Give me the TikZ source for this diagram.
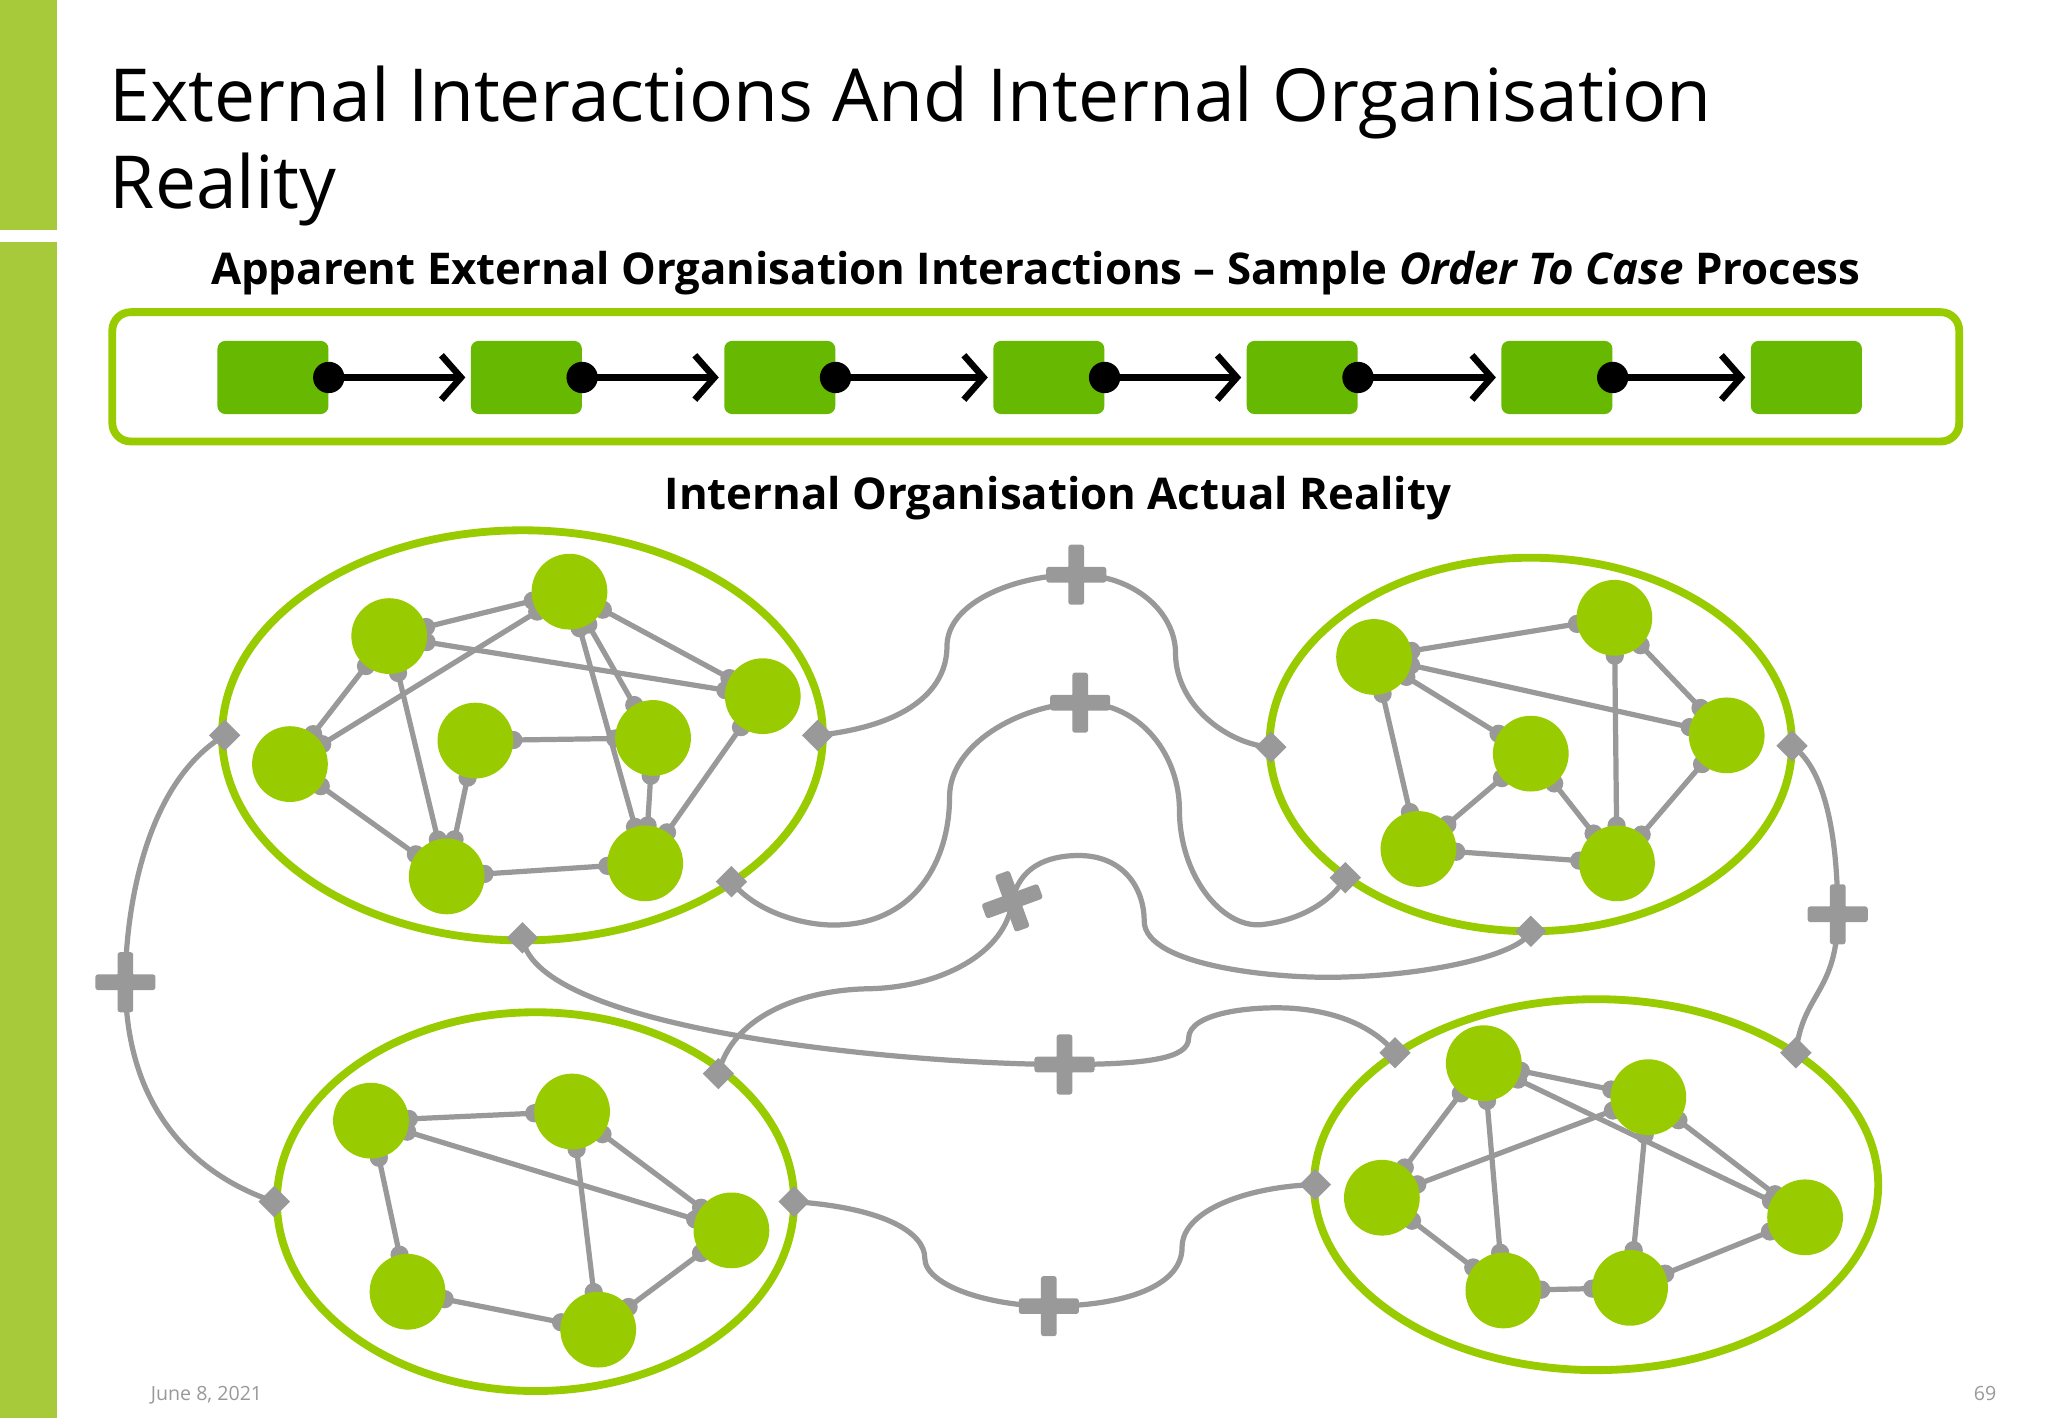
\documentclass[tikz,border=0pt]{standalone}
\usepackage{fontspec}
\setmainfont{Open Sans}
\usetikzlibrary{calc,arrows.meta}
\definecolor{bar}{HTML}{A6CA3A}
\definecolor{lime}{HTML}{99CC00}
\definecolor{boxg}{HTML}{66B800}
\definecolor{gr}{HTML}{999999}
\tikzset{
 pbox/.style={fill=boxg,rounded corners=6pt,minimum width=85pt,minimum height=56pt,inner sep=0pt},
 cnode/.style={circle,fill=lime,minimum size=58pt,inner sep=0pt},
 link/.style={draw=gr,line width=4pt},
 curve/.style={draw=gr,line width=4pt},
 ell/.style={draw=lime,line width=6pt},
 dia/.style={fill=gr,draw=none,rotate=45,minimum size=17pt,inner sep=0pt},
 arr/.style={line width=5pt,-{Straight Barb[length=15pt,width=34pt]}},
}
\newcommand{\plusmark}[3]{\begin{scope}[shift={(#1,#2)},rotate=#3]
 \fill[gr,rounded corners=2pt] (-23,-6) rectangle (23,6);
 \fill[gr,rounded corners=2pt] (-6,-23) rectangle (6,23);
 \fill[gr] (0,-12) -- (12,0) -- (0,12) -- (-12,0) -- cycle;
\end{scope}}
\begin{document}
\begin{tikzpicture}[x=1pt,y=-1pt]
\useasboundingbox (0,0) rectangle (1568,1086);
\fill[white] (0,0) rectangle (1568,1086);
\fill[bar] (0,0) rectangle (44,176);
\fill[bar] (0,185) rectangle (44,1086);
\node[anchor=base west,font=\fontsize{56}{60}\selectfont,inner sep=0pt] (t1) at (84,93) {External Interactions And Internal Organisation};
\node[anchor=base west,font=\fontsize{56}{60}\selectfont,inner sep=0pt] (t2) at (84,160) {Reality};
\node[anchor=base,font=\fontsize{33.5}{40}\selectfont\bfseries,inner sep=0pt] (st) at (793,218) {Apparent External Organisation Interactions -- Sample \textit{Order To Case} Process};
\node[anchor=base,font=\fontsize{33.5}{40}\selectfont\bfseries,inner sep=0pt] (st2) at (810,390) {Internal Organisation Actual Reality};
% top process
\draw[draw=lime,line width=6pt,rounded corners=14pt] (86,239) rectangle (1500,338);
\foreach \i/\x in {1/209,2/403,3/597,4/803,5/997,6/1192,7/1383}{\node[pbox] (p\i) at (\x,289) {};}
\foreach \a/\b in {1/2,2/3,3/4,4/5,5/6,6/7}{
 \fill (p\a.east) circle (12pt);
 \draw[arr] (p\a.east) -- ($(p\b.west)+(-4,0)$);
}
% ellipses
\draw[ell] (400,563) ellipse (230 and 157);
\draw[ell] (1172,570) ellipse (200 and 143);
\draw[ell] (410,920) ellipse (198 and 145);
\draw[ell] (1222,907) ellipse (216 and 142);
% curves
\draw[curve] (172,563) .. controls (110,600) and (96,700) .. (96,752) .. controls (96,850) and (150,900) .. (210,920);
\draw[curve] (626,563) .. controls (700,555) and (725,525) .. (725,495) .. controls (725,460) and (780,440) .. (824,440) .. controls (870,440) and (900,470) .. (900,500) .. controls (900,540) and (940,570) .. (973,572);
\draw[curve] (560,675) .. controls (580,700) and (620,710) .. (645,708) .. controls (700,705) and (727,660) .. (727,610) .. controls (727,570) and (780,540) .. (827,538) .. controls (875,538) and (903,580) .. (903,620) .. controls (903,670) and (935,710) .. (965,708) .. controls (995,705) and (1020,690) .. (1030,672);
\draw[curve] (400,718) .. controls (410,790) and (700,815) .. (815,815) .. controls (880,815) and (910,810) .. (910,795) .. controls (910,775) and (960,770) .. (990,772) .. controls (1030,775) and (1055,790) .. (1068,806);
\draw[curve] (550,822) .. controls (560,780) and (610,758) .. (665,757) .. controls (720,756) and (770,730) .. (775,690) .. controls (780,665) and (800,655) .. (826,655) .. controls (860,655) and (876,680) .. (876,705) .. controls (876,740) and (980,750) .. (1030,748) .. controls (1100,746) and (1165,730) .. (1172,713);
\draw[curve] (1372,571) .. controls (1400,590) and (1407,650) .. (1407,700) .. controls (1407,760) and (1380,760) .. (1375,806);
\draw[curve] (608,920) .. controls (680,925) and (708,945) .. (708,963) .. controls (708,985) and (760,1000) .. (803,1000) .. controls (860,1000) and (905,985) .. (905,955) .. controls (905,925) and (960,908) .. (1007,907);
% diamonds
\foreach \n/\x/\y in {d1/172/563,d2/626/563,d3/560/675,d4/400/718,d5/210/920,d6/550/822,d7/608/920,d8/973/572,d9/1030/672,d10/1172/713,d11/1372/571,d12/1068/806,d13/1375/806,d14/1007/907}{\node[dia] (\n) at (\x,\y) {};}
\plusmark{96}{752}{0}
\plusmark{824}{440}{0}
\plusmark{827}{538}{0}
\plusmark{775}{690}{20}
\plusmark{815}{815}{0}
\plusmark{1407}{700}{0}
\plusmark{803}{1000}{0}
% cluster nodes
\foreach \n/\x/\y in {A/298/487,B/436/453,C/584/533,D/222/585,E/364/567,F/500/565,G/342/671,H/494/661,
 P/1052/503,Q/1236/473,R/1322/563,S/1172/577,T/1086/650,U/1238/661,
 V/284/858,W/438/851,X/560/942,Y/312/989,Z/458/1018,
 a/1136/814,b/1262/840,c/1382/932,d/1058/917,e/1151/988,f/1248/986}{\coordinate (\n) at (\x,\y);}
\foreach \u/\v in {A/B,A/D,A/G,A/C,B/D,B/F,B/H,B/C,E/F,E/G,D/G,F/H,G/H,C/H,
 P/Q,P/R,P/S,P/T,Q/R,Q/U,S/T,S/U,R/U,T/U,
 V/W,V/X,V/Y,W/X,W/Z,Y/Z,X/Z,
 a/b,a/d,a/e,a/c,b/d,b/f,b/c,d/e,e/f,f/c}{
 \draw[link] (\u) -- (\v);
 \fill[gr] ($(\u)!29pt!(\v)$) circle (7pt);
 \fill[gr] ($(\v)!29pt!(\u)$) circle (7pt);
}
\foreach \n in {A,B,C,D,E,F,G,H,P,Q,R,S,T,U,V,W,X,Y,Z,a,b,c,d,e,f}{\node[cnode] (n\n) at (\n) {};}
\node[anchor=base west,text=gr,font=\fontsize{15}{18}\selectfont] (date) at (112,1072) {June 8, 2021};
\node[anchor=base east,text=gr,font=\fontsize{15}{18}\selectfont] (pg) at (1532,1072) {69};
\end{tikzpicture}
\end{document}
